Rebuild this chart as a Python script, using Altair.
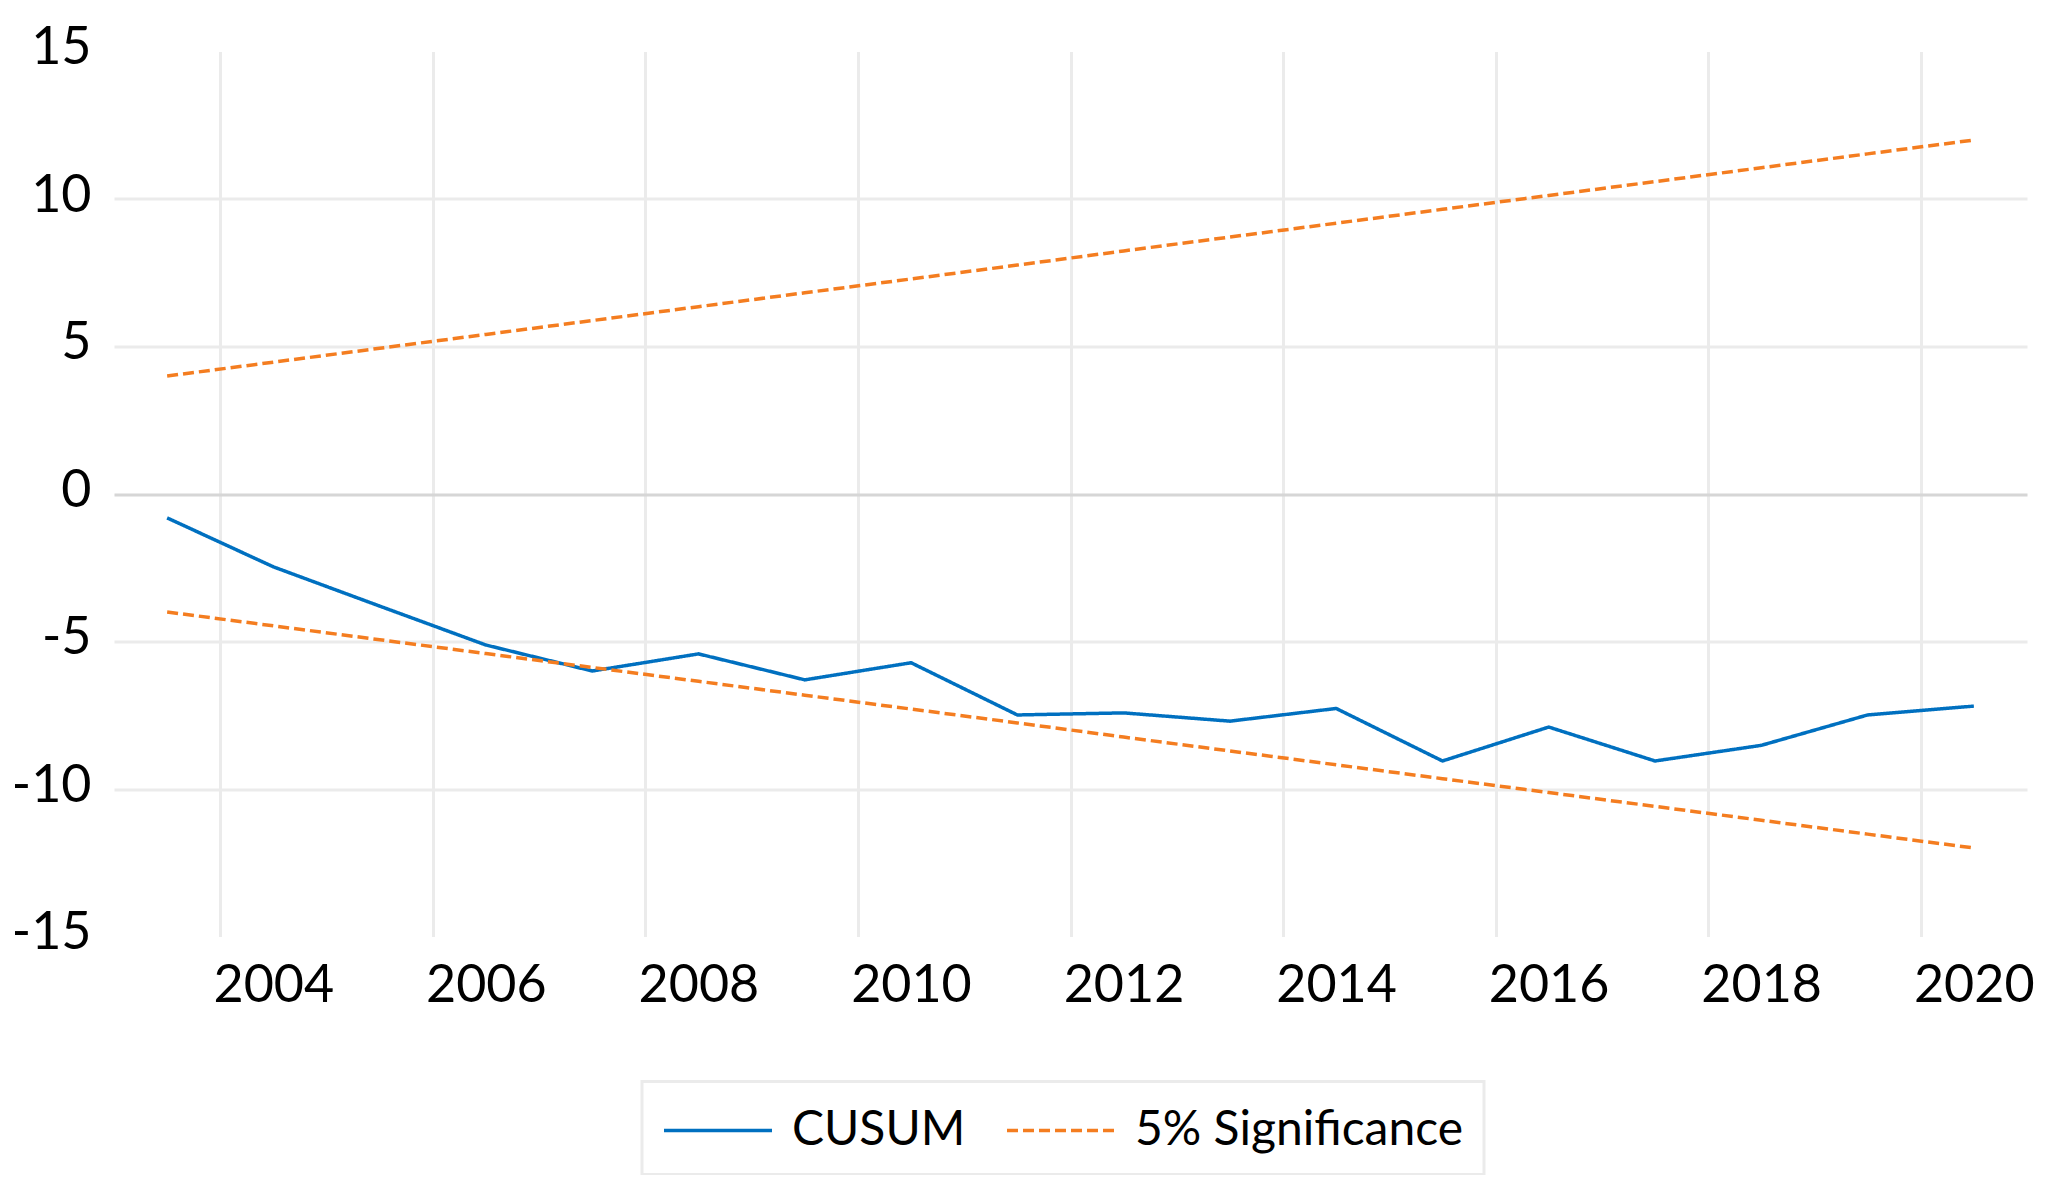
import altair as alt
import pandas as pd

# ---- data ----
years = [2003.5, 2004.5, 2005.5, 2006.5, 2007.5, 2008.5, 2009.5, 2010.5, 2011.5,
         2012.5, 2013.5, 2014.5, 2015.5, 2016.5, 2017.5, 2018.5, 2019.5, 2020.5]
cusum = [-0.81, -2.47, -3.80, -5.12, -6.00, -5.42, -6.30, -5.72, -7.49,
         -7.42, -7.70, -7.27, -9.05, -7.90, -9.05, -8.52, -7.49, -7.19]
upper = [4.00, 4.47, 4.94, 5.41, 5.88, 6.35, 6.82, 7.29, 7.76,
         8.24, 8.71, 9.18, 9.65, 10.12, 10.59, 11.06, 11.53, 12.00]
lower = [-4.00, -4.47, -4.94, -5.41, -5.88, -6.35, -6.82, -7.29, -7.76,
         -8.24, -8.71, -9.18, -9.65, -10.12, -10.59, -11.06, -11.53, -12.00]

series_names = ["CUSUM", "5% Significance"]
series_colors = ["#0070C0", "#F47D20"]
x_ticks = [2004, 2006, 2008, 2010, 2012, 2014, 2016, 2018, 2020]
y_ticks = [-15, -10, -5, 0, 5, 10, 15]

rows = []
for name, line, vals in [("CUSUM", "cusum", cusum),
                         ("5% Significance", "upper", upper),
                         ("5% Significance", "lower", lower)]:
    for yr, v in zip(years, vals):
        rows.append({"year": yr, "value": v, "series": name, "line": line})
df = pd.DataFrame(rows)

FONT = "Lato"
FS = 52

chart = alt.Chart(df).mark_line(strokeWidth=3.5).encode(
    x=alt.X("year:Q",
            scale=alt.Scale(domain=[2003, 2021], nice=False, zero=False),
            axis=alt.Axis(values=x_ticks, format="d", title=None,
                          grid=True, gridColor="#EBEBEB", gridWidth=3,
                          domain=False, ticks=False, tickSize=0,
                          labelOffset=53, labelPadding=24,
                          labelFont=FONT, labelFontSize=FS, labelColor="black")),
    y=alt.Y("value:Q",
            scale=alt.Scale(domain=[-15, 15], nice=False, zero=False),
            axis=alt.Axis(values=y_ticks, title=None,
                          labelExpr="'' + datum.value",
                          grid=True,
                          gridColor={"condition": {"test": "datum.value === 0", "value": "#D6D6D6"},
                                     "value": "#EBEBEB"},
                          gridOpacity={"condition": {"test": "abs(datum.value) === 15", "value": 0},
                                       "value": 1},
                          gridWidth=3,
                          domain=False, ticks=False, tickSize=0,
                          labelPadding=23, labelOffset=-4,
                          labelFont=FONT, labelFontSize=FS, labelColor="black")),
    color=alt.Color("series:N", title=None,
                    scale=alt.Scale(domain=series_names, range=series_colors)),
    strokeDash=alt.StrokeDash("series:N", title=None,
                              scale=alt.Scale(domain=series_names, range=[[1, 0], [11, 5]])),
    detail="line:N",
).properties(
    width=1913,
    height=885,
    padding={"left": 106, "top": 43.5, "right": 15, "bottom": 238},
    autosize=alt.AutoSizeParams(type="none"),
).configure(
    font=FONT,
).configure_view(
    stroke=None,
).configure_legend(
    orient="none",
    legendX=528,
    legendY=1030,
    direction="horizontal",
    strokeColor="#EBEBEB",
    strokeWidth=3,
    padding=20,
    labelFont=FONT,
    labelFontSize=48,
    labelColor="black",
    labelLimit=0,
    symbolType="M-2,0L2,0",
    symbolSize=2916,
    symbolOffset=27,
    symbolStrokeWidth=3.5,
    columnPadding=34,
    labelOffset=45,
)

chart.save("out.html", embed_options={"renderer": "svg", "actions": False})
